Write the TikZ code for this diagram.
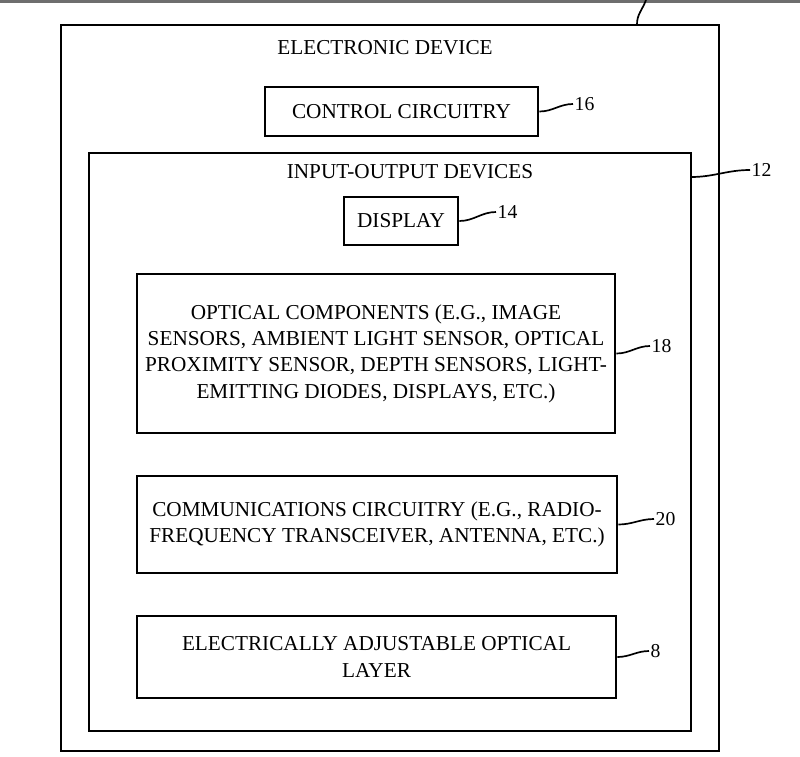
\documentclass[tikz,border=0pt]{standalone}
\usepackage{fontspec}
\setmainfont{Liberation Serif}

\definecolor{myrule}{RGB}{110,110,110}

\tikzset{
	box/.style={draw=black, line width=1.9pt, align=center, inner sep=0pt},
	txt/.style={font=\fontsize{15.1}{18.7}\selectfont, align=center},
	lbl/.style={font=\fontsize{14}{16}\selectfont, anchor=west, inner sep=1pt},
	lead/.style={line width=1.2pt}
}

\begin{document}
\begin{tikzpicture}[x=0.025cm, y=-0.025cm]
	
	\useasboundingbox (0,0) rectangle (800,756);
	
	\draw[myrule, line width=2pt] (0,1.5) -- (800,1.5);
	
	\node[box, minimum width=16.45cm, minimum height=18.15cm] (dev) at (390,388) {};
	\node[box, minimum width=15.05cm, minimum height=14.45cm] (io) at (390,442) {};
	
	\node[txt] (devtitle) at (385,48) {ELECTRONIC DEVICE};
	\node[txt] (iotitle) at (410,172) {INPUT-OUTPUT DEVICES};
	
	\node[box, txt, minimum width=6.825cm, minimum height=1.225cm] (ctrl) at (401.5,111.5) {CONTROL CIRCUITRY};
	\node[box, txt, minimum width=2.85cm, minimum height=1.2cm] (disp) at (401,221) {DISPLAY};
	
	\node[box, txt, minimum width=11.95cm, minimum height=3.975cm] (opt) at (376,353.5) {
		OPTICAL COMPONENTS (E.G., IMAGE\\
		SENSORS, AMBIENT LIGHT SENSOR, OPTICAL\\
		PROXIMITY SENSOR, DEPTH SENSORS, LIGHT-\\
		EMITTING DIODES, DISPLAYS, ETC.)
	};
	\node[box, txt, minimum width=12cm, minimum height=2.425cm] (comm) at (377,524.5) {
		COMMUNICATIONS CIRCUITRY (E.G., RADIO-\\
		FREQUENCY TRANSCEIVER, ANTENNA, ETC.)
	};
	\node[box, txt, minimum width=11.975cm, minimum height=2.05cm] (layer) at (376.5,657) {
		ELECTRICALLY ADJUSTABLE OPTICAL\\
		LAYER
	};
	
	\node[lbl] (l16) at (573,104) {16};
	\node[lbl] (l14) at (496,212) {14};
	\node[lbl] (l18) at (650,346) {18};
	\node[lbl] (l20) at (654,519) {20};
	\node[lbl] (l8) at (649,651) {8};
	\node[lbl] (l12) at (750,170) {12};
	
	\draw[lead] (ctrl.east) to[out=0, in=180] (l16.west);
	\draw[lead] (disp.east) to[out=0, in=180] (l14.west);
	\draw[lead] (opt.east) to[out=0, in=180] (l18.west);
	\draw[lead] (comm.east) to[out=0, in=180] (l20.west);
	\draw[lead] (layer.east) to[out=0, in=180] (l8.west);
	
	\coordinate (c12) at (691,177);
	\draw[lead] (c12) to[out=0, in=180] (l12.west);
	
	\coordinate (c10a) at (637,25);
	\coordinate (c10b) at (646,0);
	\draw[lead] (c10a) to[out=92, in=250] (c10b);
	
\end{tikzpicture}
\end{document}
